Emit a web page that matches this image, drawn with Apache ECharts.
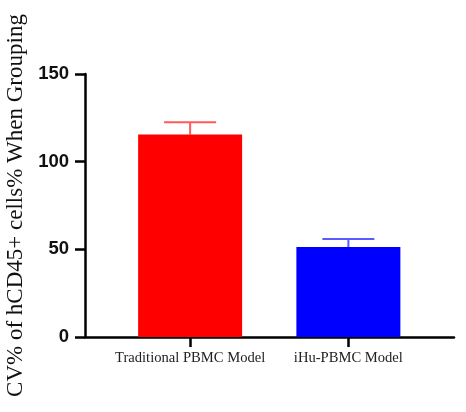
<!DOCTYPE html>
<html><head><meta charset="utf-8">
<script src="https://cdn.jsdelivr.net/npm/echarts@6/dist/echarts.min.js"></script>
<style>html,body{margin:0;padding:0;background:#fff}#c{width:466px;height:412px}</style>
</head><body><div id="c"></div>
<script>
const categories = ['Traditional PBMC Model', 'iHu-PBMC Model'];
const means = [115.5, 51.3];
const errors = [7.0, 4.6];
const yTicks = [0, 50, 100, 150];
const barColors = ['#ff0000', '#0000ff'];
const errColors = ['#ff5a5a', '#5a5aff'];

const chart = echarts.init(document.getElementById('c'));
chart.setOption({
  animation: false,
  grid: [
    {left: 111, right: 38.5, top: 74, bottom: 75, containLabel: false, outerBoundsMode: 'none'},
    {left: 85, right: 12, top: 74, bottom: 75, containLabel: false, outerBoundsMode: 'none'}
  ],
  xAxis: [
    {type: 'category', gridIndex: 0, data: categories,
     axisLine: {show: false},
     axisTick: {show: true, alignWithLabel: true, length: 10, lineStyle: {color: '#000', width: 2.5}},
     axisLabel: {interval: 0, hideOverlap: false, margin: 14, color: '#222', fontFamily: 'Liberation Serif', fontSize: 14.6}},
    {type: 'value', gridIndex: 1, min: 0, max: 1,
     axisLine: {show: true, lineStyle: {color: '#000', width: 2.5}},
     axisTick: {show: false}, axisLabel: {show: false}, splitLine: {show: false}}
  ],
  yAxis: [
    {type: 'value', gridIndex: 0, min: yTicks[0], max: yTicks[yTicks.length - 1], interval: 50,
     offset: 26,
     name: 'CV% of hCD45+ cells% When Grouping', nameLocation: 'middle', nameGap: 57,
     nameTextStyle: {fontFamily: 'Liberation Serif', fontSize: 23, color: '#111'},
     axisLine: {show: true, lineStyle: {color: '#000', width: 2.5}},
     axisTick: {show: true, length: 10, lineStyle: {color: '#000', width: 2.5}},
     axisLabel: {margin: 16, color: '#111', fontFamily: 'Liberation Sans', fontWeight: 'bold', fontSize: 18.5},
     splitLine: {show: false}},
    {type: 'value', gridIndex: 1, show: false, min: 0, max: 1}
  ],
  series: [
    {type: 'bar', xAxisIndex: 0, yAxisIndex: 0, barWidth: 104,
     data: means.map((v, i) => ({value: v, itemStyle: {color: barColors[i]}}))},
    {type: 'custom', xAxisIndex: 0, yAxisIndex: 0, z: 1,
     data: means.map((v, i) => [i, v, v + errors[i]]),
     renderItem: function (params, api) {
       const i = api.value(0);
       const base = api.coord([i, api.value(1)]);
       const top = api.coord([i, api.value(2)]);
       const hw = 26;
       const st = {stroke: errColors[i], lineWidth: 2};
       return {type: 'group', children: [
         {type: 'line', shape: {x1: base[0], y1: base[1], x2: top[0], y2: top[1]}, style: st},
         {type: 'line', shape: {x1: top[0] - hw, y1: top[1], x2: top[0] + hw, y2: top[1]}, style: st}
       ]};
     }}
  ]
});
</script></body></html>
